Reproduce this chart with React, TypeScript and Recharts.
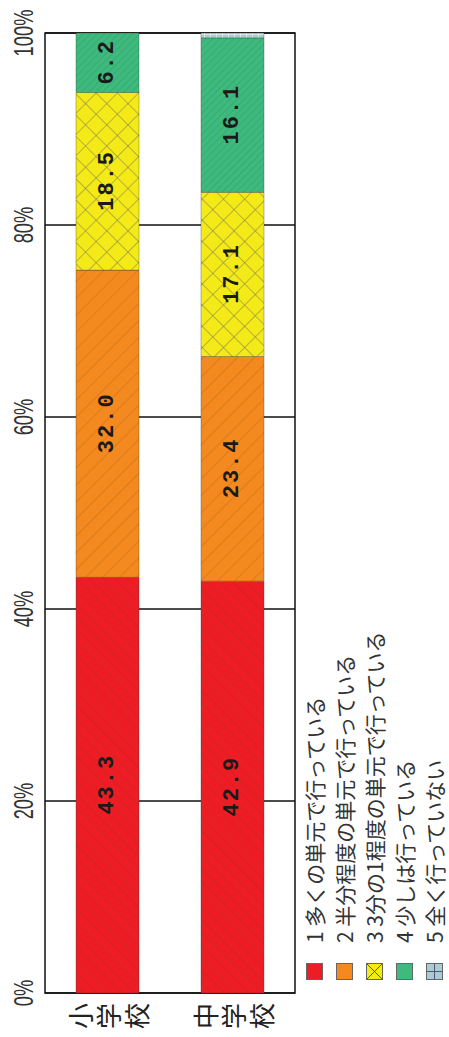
import React from 'react';
import { BarChart, Bar, XAxis, YAxis, CartesianGrid, LabelList, Legend, ReferenceArea } from 'recharts';

const categories = ['小学校', '中学校'];
const s1 = [43.3, 42.9];
const s2 = [32.0, 23.4];
const s3 = [18.5, 17.1];
const s4 = [6.2, 16.1];
const s5 = [0, 0.5];
const seriesNames = [
  '1 多くの単元で行っている',
  '2 半分程度の単元で行っている',
  '3 3分の1程度の単元で行っている',
  '4 少しは行っている',
  '5 全く行っていない',
];
const percentTicks = [0, 20, 40, 60, 80, 100];
const seriesKeys = ['s1', 's2', 's3', 's4', 's5'];
const seriesColors = ['#ee1c25', '#f48a1f', '#f4ea18', '#3fba7e', '#a9cdd2'];

const data = categories.map((name, i) => ({
  name,
  s1: s1[i],
  s2: s2[i],
  s3: s3[i],
  s4: s4[i],
  s5: s5[i],
}));

const Patterns = () => (
  <svg style={{ position: 'absolute', width: 0, height: 0 }} aria-hidden="true">
    <defs>
      <pattern id="p1" width="9" height="9" patternUnits="userSpaceOnUse" patternTransform="rotate(45)">
        <rect width="9" height="9" fill={seriesColors[0]} />
        <line x1="0" y1="0" x2="0" y2="9" stroke="#8a3a1a" strokeWidth="1.2" strokeOpacity="0.45" />
      </pattern>
      <pattern id="p2" width="12" height="12" patternUnits="userSpaceOnUse" patternTransform="rotate(-45)">
        <rect width="12" height="12" fill={seriesColors[1]} />
        <line x1="0" y1="0" x2="0" y2="12" stroke="#a85a10" strokeWidth="1" strokeOpacity="0.6" />
      </pattern>
      <pattern id="p3" width="15" height="15" patternUnits="userSpaceOnUse" patternTransform="rotate(45)">
        <rect width="15" height="15" fill={seriesColors[2]} />
        <line x1="0" y1="0" x2="0" y2="15" stroke="#7a7650" strokeWidth="1" />
        <line x1="0" y1="0" x2="15" y2="0" stroke="#7a7650" strokeWidth="1" />
      </pattern>
      <pattern id="p4" width="5" height="5" patternUnits="userSpaceOnUse" patternTransform="rotate(-45)">
        <rect width="5" height="5" fill={seriesColors[3]} />
        <line x1="0" y1="0" x2="0" y2="5" stroke="#23855a" strokeWidth="1" strokeOpacity="0.6" />
      </pattern>
      <pattern id="p5" width="6" height="6" patternUnits="userSpaceOnUse">
        <rect width="6" height="6" fill={seriesColors[4]} />
        <line x1="0" y1="0" x2="0" y2="6" stroke="#ffffff" strokeWidth="1" />
        <line x1="0" y1="0" x2="6" y2="0" stroke="#ffffff" strokeWidth="1" />
      </pattern>
    </defs>
  </svg>
);

const PercentTick = (props: any) => {
  const { x, payload } = props;
  return (
    <text
      transform={`translate(${x},33) scale(0.68,1)`}
      textAnchor="middle"
      fontFamily="Liberation Sans, Arial, sans-serif"
      fontSize={27}
      fill="#333"
    >
      {`${payload.value}%`}
    </text>
  );
};

const CategoryTick = (props: any) => {
  const { y, payload } = props;
  const chars = String(payload.value).split('');
  const pitch = 28;
  return (
    <g>
      {chars.map((c, i) => (
        <text
          key={i}
          x={21}
          y={y + (i - (chars.length - 1) / 2) * pitch}
          textAnchor="middle"
          dominantBaseline="central"
          fontFamily="Noto Sans CJK JP, sans-serif"
          fontSize={26}
          fill="#222"
        >
          {c}
        </text>
      ))}
    </g>
  );
};

const renderValueLabel = (props: any) => {
  const { x, y, width, height, value } = props;
  if (value == null || value < 3) return null;
  return (
    <text
      x={x + width / 2 + 1}
      y={y + height / 2}
      textAnchor="middle"
      dominantBaseline="central"
      fontFamily="Liberation Mono, DejaVu Sans Mono, monospace"
      fontWeight="bold"
      fontSize={22}
      letterSpacing={2}
      fill="#1a1a1a"
    >
      {Number(value).toFixed(1)}
    </text>
  );
};

const LegendContent = () => (
  <div style={{ fontFamily: 'Noto Sans CJK JP, sans-serif', fontSize: 21, color: '#333' }}>
    {seriesNames.map((n, i) => (
      <div key={i} style={{ display: 'flex', alignItems: 'center', height: 30, whiteSpace: 'nowrap' }}>
        <svg width={17} height={17} style={{ marginRight: 20, flex: 'none' }}>
          <rect x={0.5} y={0.5} width={16} height={16} fill={seriesColors[i]} stroke="#666" strokeWidth={1} />
          {i === 2 && (
            <>
              <line x1={1} y1={1} x2={16} y2={16} stroke="#555" strokeWidth={1} />
              <line x1={16} y1={1} x2={1} y2={16} stroke="#555" strokeWidth={1} />
            </>
          )}
          {i === 4 && (
            <>
              <line x1={8.5} y1={1} x2={8.5} y2={16} stroke="#557" strokeWidth={1} />
              <line x1={1} y1={8.5} x2={16} y2={8.5} stroke="#557" strokeWidth={1} />
            </>
          )}
        </svg>
        <span>{n}</span>
      </div>
    ))}
  </div>
);

export default function App() {
  return (
    <>
      <style>{`body{margin:0;overflow:hidden;background:#fff}`}</style>
      <Patterns />
      <div
        style={{
          position: 'absolute',
          left: 0,
          top: 0,
          width: 1037,
          height: 449,
          transformOrigin: '0 0',
          transform: 'translateY(1037px) rotate(-90deg)',
          background: '#fff',
        }}
      >
        <BarChart
          layout="vertical"
          width={1037}
          height={449}
          data={data}
          margin={{ top: 0, right: 33, bottom: 154, left: 0 }}
          barCategoryGap={0}
        >
          <CartesianGrid horizontal={false} stroke="#111" strokeWidth={1.5} />
          <XAxis
            type="number"
            orientation="top"
            domain={[0, 100]}
            ticks={percentTicks}
            height={45}
            axisLine={false}
            tickLine={false}
            tick={<PercentTick />}
            interval={0}
          />
          <YAxis
            type="category"
            dataKey="name"
            width={44}
            axisLine={false}
            tickLine={false}
            tick={<CategoryTick />}
          />
          {seriesKeys.map((k, i) => (
            <Bar
              key={k}
              dataKey={k}
              stackId="a"
              barSize={63}
              fill={`url(#p${i + 1})`}
              stroke="rgba(60,60,40,0.35)"
              strokeWidth={1}
              isAnimationActive={false}
            >
              <LabelList dataKey={k} content={renderValueLabel} />
            </Bar>
          ))}
          <ReferenceArea x1={0} x2={100} fill="none" stroke="#111" strokeWidth={1.5} ifOverflow="visible" />
          <Legend
            layout="vertical"
            align="center"
            verticalAlign="middle"
            wrapperStyle={{ left: 57, top: 299, width: 500, height: 150 }}
            content={<LegendContent />}
          />
        </BarChart>
      </div>
    </>
  );
}
